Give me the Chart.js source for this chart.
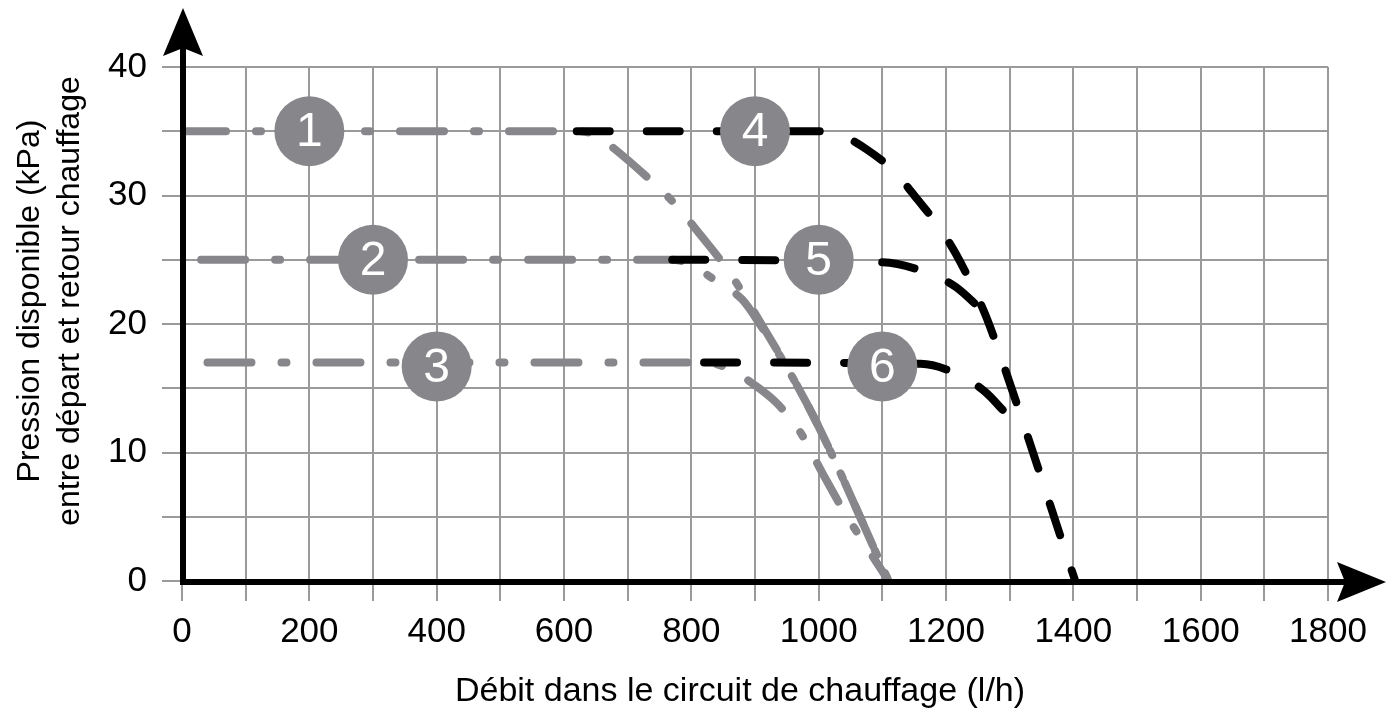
<!DOCTYPE html>
<html>
<head>
<meta charset="utf-8">
<script src="https://cdn.jsdelivr.net/npm/chart.js@4.4.1/dist/chart.umd.min.js"></script>
<style>
  body { margin: 0; background: #fff; }
  canvas { display: block; }
</style>
</head>
<body>
<canvas id="grafico" width="1387" height="717"></canvas>
<script>
// debit (l/h) et pression (kPa) lus sur la courbe
// courbes grises 1, 2, 3
const debit1 = [0, 620, 650, 680, 740, 775, 810, 860, 910, 955, 1000, 1110];
const press1 = [35, 35, 34.7, 33.6, 31, 29.3, 27.2, 24, 20, 16.2, 12, 0];
const debit2 = [30, 770, 800, 840, 880, 910, 955, 1000, 1110];
const press2 = [25, 25, 24.6, 23.3, 21.9, 19.8, 16.2, 12, 0];
const debit3 = [40, 820, 860, 898, 934, 969, 1007, 1040, 1110];
const press3 = [17, 17, 16.5, 15.3, 13.85, 11.75, 8.3, 5.4, 0];
// courbes noires 4, 5, 6
const debit4 = [620, 1000, 1030, 1075, 1120, 1155, 1190, 1215, 1242, 1262, 1280, 1403];
const press4 = [35, 35, 34.8, 33.6, 31.8, 29.7, 27.5, 25.5, 22.9, 20.7, 18.3, 0];
const debit5 = [770, 1100, 1170, 1215, 1258];
const press5 = [25, 24.8, 24, 22.9, 21];
const debit6 = [820, 1160, 1222, 1262, 1300, 1316];
const press6 = [17, 16.9, 16, 14.7, 12.8, 12.3];
// reperes numerotes
const reperes = ['1', '2', '3', '4', '5', '6'];
const repereX = [200, 300, 400, 900, 1000, 1100];
const repereY = [35, 25, 16.7, 35, 25, 16.7];

const GRIS = '#87878b';
const NOIR = '#000000';
const POLICE = '"Liberation Sans", Arial, sans-serif';

function points(xs, ys) {
  return xs.map((x, i) => ({ x: x, y: ys[i] }));
}

function courbe(xs, ys, couleur, tirets) {
  return {
    data: points(xs, ys),
    showLine: true,
    borderColor: couleur,
    borderWidth: 8,
    borderDash: tirets,
    borderCapStyle: 'round',
    cubicInterpolationMode: 'monotone',
    pointRadius: 0,
    pointHoverRadius: 0,
    fill: false
  };
}

const tiretGris = [44, 30, 5, 30];
const tiretNoir = [33, 37];

// numeros dans les ronds + axes avec fleches
const dessin = {
  id: 'dessin',
  afterDatasetsDraw(chart) {
    const ctx = chart.ctx;
    const meta = chart.getDatasetMeta(0);
    ctx.save();
    ctx.fillStyle = '#fff';
    ctx.font = '48px ' + POLICE;
    ctx.textAlign = 'center';
    ctx.textBaseline = 'middle';
    meta.data.forEach((p, i) => {
      ctx.fillText(reperes[i], p.x, p.y + 2);
    });
    ctx.restore();
  },
  afterDraw(chart) {
    const ctx = chart.ctx;
    const x0 = chart.scales.x.getPixelForValue(0) + 1;
    const y0 = chart.scales.y.getPixelForValue(0) + 1;
    ctx.save();
    ctx.strokeStyle = '#000';
    ctx.fillStyle = '#000';
    ctx.lineWidth = 6;
    ctx.lineCap = 'butt';
    ctx.beginPath();
    ctx.moveTo(x0, y0 + 3);
    ctx.lineTo(x0, 40);
    ctx.moveTo(x0 - 3, y0);
    ctx.lineTo(1345, y0);
    ctx.stroke();
    // fleche verticale
    ctx.beginPath();
    ctx.moveTo(x0, 8);
    ctx.lineTo(x0 + 20, 56);
    ctx.lineTo(x0, 48);
    ctx.lineTo(x0 - 20, 56);
    ctx.closePath();
    ctx.fill();
    // fleche horizontale
    ctx.beginPath();
    ctx.moveTo(1386, y0);
    ctx.lineTo(1337, y0 - 20);
    ctx.lineTo(1345, y0);
    ctx.lineTo(1337, y0 + 20);
    ctx.closePath();
    ctx.fill();

    // titres des axes
    ctx.font = '34px ' + POLICE;
    ctx.textAlign = 'center';
    ctx.textBaseline = 'alphabetic';
    ctx.fillText('Débit dans le circuit de chauffage (l/h)', 740, 701);
    ctx.font = '32px ' + POLICE;
    ctx.textBaseline = 'middle';
    ctx.translate(30, 301);
    ctx.rotate(-Math.PI / 2);
    ctx.fillText('Pression disponible (kPa)', 0, 0);
    ctx.fillText('entre départ et retour chauffage', 0, 40);
    ctx.restore();
  }
};

Chart.defaults.font.family = POLICE;

new Chart(document.getElementById('grafico'), {
  type: 'scatter',
  data: {
    datasets: [
      {
        data: points(repereX, repereY),
        pointRadius: 35,
        pointHoverRadius: 35,
        pointBackgroundColor: GRIS,
        pointBorderWidth: 0,
        pointHoverBorderWidth: 0,
        showLine: false
      },
      courbe(debit4, press4, NOIR, tiretNoir),
      courbe(debit5, press5, NOIR, tiretNoir),
      courbe(debit6, press6, NOIR, tiretNoir),
      courbe(debit1, press1, GRIS, tiretGris),
      courbe(debit2, press2, GRIS, tiretGris),
      courbe(debit3, press3, GRIS, tiretGris)
    ]
  },
  options: {
    responsive: false,
    animation: false,
    layout: { padding: { top: 67, right: 59, left: 0, bottom: 0 } },
    plugins: {
      legend: { display: false },
      tooltip: { enabled: false }
    },
    events: [],
    scales: {
      x: {
        type: 'linear',
        min: 0,
        max: 1800,
        border: { display: false },
        grid: { color: '#9a9a9a', lineWidth: 2, tickLength: 20 },
        ticks: {
          stepSize: 100,
          autoSkip: false,
          maxRotation: 0,
          padding: 10,
          color: '#000',
          font: { size: 35 },
          callback: v => (v % 200 === 0 ? v : '')
        },
        afterFit: s => { s.height = 136; }
      },
      y: {
        min: 0,
        max: 40,
        border: { display: false },
        grid: { color: '#9a9a9a', lineWidth: 2, tickLength: 20 },
        ticks: {
          stepSize: 5,
          autoSkip: false,
          padding: 15,
          color: '#000',
          font: { size: 35 },
          callback: v => (v % 10 === 0 ? v : '')
        },
        afterFit: s => { s.width = 182; }
      }
    }
  },
  plugins: [dessin]
});
</script>
</body>
</html>
